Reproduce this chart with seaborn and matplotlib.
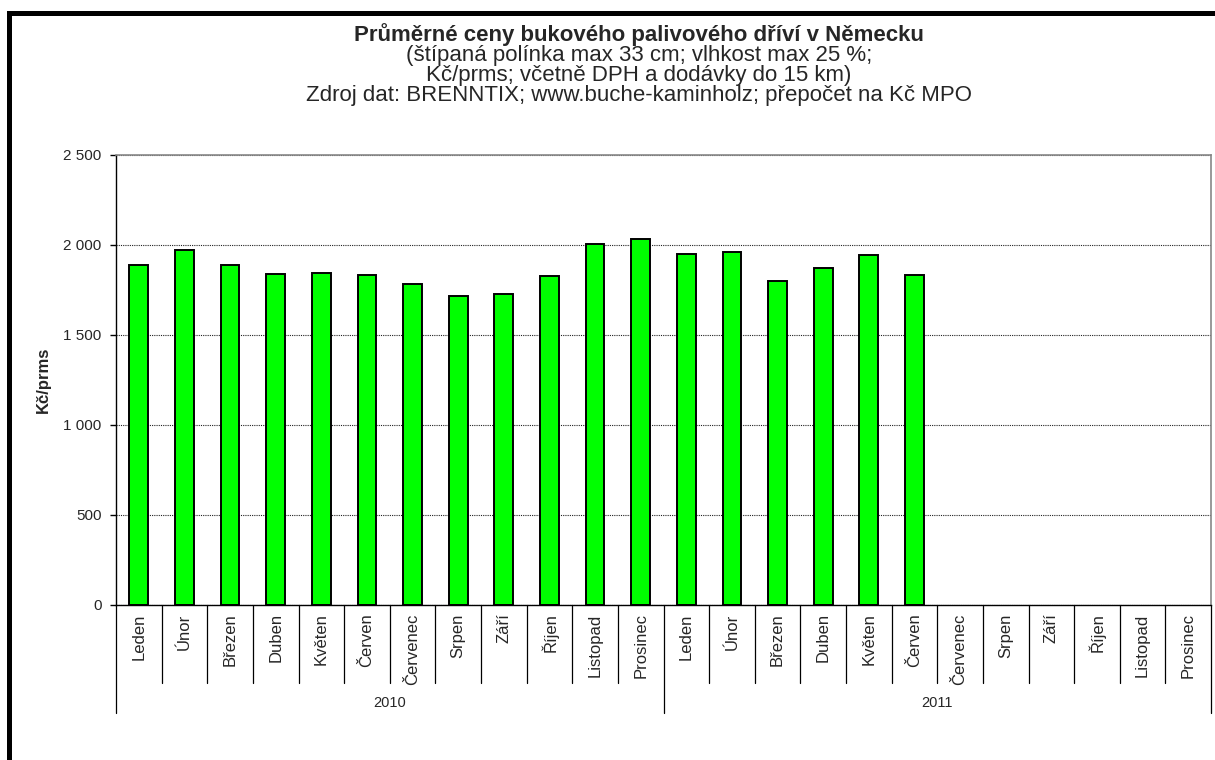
import pandas as pd
import seaborn as sns
import matplotlib.pyplot as plt
from matplotlib.patches import Rectangle
from matplotlib.transforms import blended_transform_factory

# Data
months = ['Leden', 'Únor', 'Březen', 'Duben', 'Květen', 'Červen',
          'Červenec', 'Srpen', 'Září', 'Říjen', 'Listopad', 'Prosinec']
years = ['2010', '2011']
price_2010 = [1889, 1972, 1887, 1837, 1846, 1831, 1785, 1718, 1729, 1828, 2007, 2035]
price_2011 = [1950, 1961, 1802, 1872, 1946, 1833]

slots = [f"{y}-{m}" for y in years for m in months]
values = price_2010 + price_2011 + [None] * (24 - len(price_2010) - len(price_2011))
df = pd.DataFrame({"slot": slots, "price": values}).dropna()

sns.set_theme(style="white")
plt.rcParams['font.family'] = ['Liberation Sans', 'DejaVu Sans']

W, H = 1215, 760
fig = plt.figure(figsize=(W / 100, H / 100), dpi=100)
ax = fig.add_axes([116 / W, 1 - 605 / H, (1211 - 116) / W, 450 / H])

sns.barplot(data=df, x="slot", y="price", order=slots, color="#00ff00",
            edgecolor="black", linewidth=1.4, width=0.41, saturation=1, ax=ax)

ax.set_xlim(-0.5, 23.5)
ax.set_ylim(0, 2500)
ax.set_yticks(range(0, 2501, 500))
ax.set_yticklabels([f"{v:,}".replace(",", " ") for v in range(0, 2501, 500)], fontsize=11)
ax.yaxis.grid(True, linestyle=(0, (1, 1)), color="#222222", linewidth=0.8)
ax.set_axisbelow(True)
ax.tick_params(axis="y", left=True, length=4.5, width=1, color="black", pad=6)
ax.set_ylabel("Kč/prms", fontsize=12, fontweight="bold")
ax.yaxis.label.set_va("center")
ax.yaxis.set_label_coords((43 - 116) / 1095, 0.5)
ax.set_xlabel("")

ax.set_xticks(range(24))
ax.set_xticklabels(months * 2, rotation=90, fontsize=12, va="top")
ax.tick_params(axis="x", bottom=False, length=0, pad=6)

for s in ["top", "right"]:
    ax.spines[s].set_color("#888888")
    ax.spines[s].set_linewidth(1.2)
ax.spines["left"].set_color("black")
ax.spines["bottom"].set_color("black")
ax.spines["left"].set_linewidth(1)
ax.spines["bottom"].set_linewidth(1)

# category separators under the axis
tr = blended_transform_factory(ax.transData, ax.transAxes)
for i in range(25):
    x = i - 0.5
    ybot = -108 / 450 if i % 12 == 0 else -78 / 450
    ax.plot([x, x], [0, ybot], color="black", lw=0.9, transform=tr, clip_on=False)
for j, y in enumerate(years):
    ax.text(j * 12 + 5.5, -98 / 450, y, transform=tr, ha="center", va="center", fontsize=10.5)

# title block
fig.text(639 / W, 1 - 35 / H, "Průměrné ceny bukového palivového dříví v Německu",
         ha="center", va="center", fontsize=16, fontweight="bold")
sub = ["(štípaná polínka max 33 cm; vlhkost max 25 %;",
       "Kč/prms; včetně DPH a dodávky do 15 km)",
       "Zdroj dat: BRENNTIX; www.buche-kaminholz; přepočet na Kč MPO"]
for k, line in enumerate(sub):
    fig.text(639 / W, 1 - (55 + 20 * k) / H, line, ha="center", va="center", fontsize=16)

# black frame at left and top
fig.add_artist(Rectangle((7 / W, 0), 5 / W, 1 - 11 / H, transform=fig.transFigure,
                         color="black", lw=0))
fig.add_artist(Rectangle((7 / W, 1 - 16 / H), 1 - 7 / W, 5 / H, transform=fig.transFigure,
                         color="black", lw=0))

fig.savefig("out.png", dpi=100)
